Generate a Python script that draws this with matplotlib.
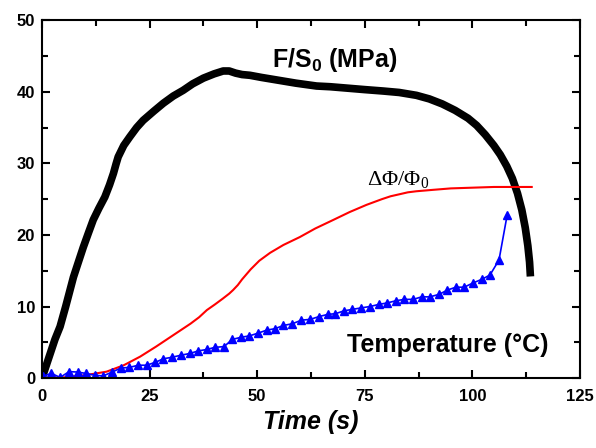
import matplotlib
matplotlib.use("Agg")
import matplotlib.pyplot as plt
from matplotlib.ticker import MultipleLocator

# stress F/S0 (MPa) vs time
stress_t = [0, 1, 2, 3, 4.2, 5.5, 7.3, 8.5, 9.6, 10.8, 11.9, 13.2, 14.6, 15.7,
            16.6, 17.2, 17.7, 19, 20.4, 22, 23.5, 26, 28.2, 30.5, 32.8, 35, 37.5,
            40, 42.1, 43.5, 45, 46.5, 48.3, 51, 55, 59, 63.8, 67, 71, 75, 79.3,
            83, 87, 90, 93, 96, 99, 101, 103, 105, 106.5, 108, 109.3, 110.5,
            111.5, 112.3, 112.9, 113.3, 113.5]
stress_v = [0, 1.8, 3.6, 5.4, 7.2, 10, 14.1, 16.3, 18.3, 20.3, 22.1, 23.7, 25.3, 27,
            28.6, 29.9, 30.9, 32.5, 33.7, 35, 36.0, 37.3, 38.4, 39.4, 40.2, 41.1, 41.9,
            42.5, 42.9, 42.9, 42.6, 42.4, 42.3, 42.0, 41.6, 41.2, 40.8, 40.7, 40.5, 40.3, 40.1,
            39.9, 39.5, 39.0, 38.3, 37.4, 36.3, 35.3, 34.0, 32.5, 31.2, 29.6, 27.9, 25.8,
            23.5, 21.0, 18.5, 16.2, 14.2]

# porosity change dPhi/Phi0
phi_t = [0, 5, 10, 15, 19, 22.8, 26.5, 30.5, 34.5, 36.5, 38.3, 40.2, 42, 43.5,
         44.4, 45.5, 46.5, 48.5, 50.5, 53, 56.1, 59.9, 63.5, 67.7, 71.5, 75.4,
         79, 81, 83.2, 85, 87, 90.9, 95, 100, 105, 110, 113.8]
phi_v = [0, 0.1, 0.4, 0.9, 1.8, 3.0, 4.4, 6.0, 7.6, 8.5, 9.5, 10.3, 11.1, 11.8,
         12.3, 13.0, 13.8, 15.2, 16.4, 17.5, 18.6, 19.7, 20.9, 22.1, 23.2, 24.2,
         25.0, 25.4, 25.7, 25.95, 26.1, 26.3, 26.5, 26.6, 26.7, 26.7, 26.7]

# temperature markers
temp_t = [0.3, 2.2, 4.2, 6.3, 8.3, 10.2, 12.3, 14.2, 16.3, 18.3, 20.3, 22.4, 24.3,
          26.3, 28.2, 30.1, 32.3, 34.4, 36.3, 38.3, 40.2, 42.3, 44.2, 46.2, 48.2,
          50.3, 52.2, 54.1, 56.1, 58.2, 60.3, 62.3, 64.4, 66.4, 68.2, 70.2, 72.1,
          74.1, 76.2, 78.3, 80.2, 82.2, 84.2, 86.3, 88.2, 90.1, 92.3, 94.2, 96.2,
          98.1, 100.2, 102.2, 104.1, 106.2, 108.1]
temp_v = [0.3, 0.65, 0.1, 0.9, 0.85, 0.65, 0.4, 0.3, 0.85, 1.4, 1.5, 1.8, 1.8,
          2.2, 2.7, 2.9, 3.2, 3.45, 3.8, 4.0, 4.3, 4.4, 5.4, 5.7, 5.9,
          6.3, 6.7, 6.9, 7.35, 7.6, 8.1, 8.2, 8.6, 8.9, 9.0, 9.4, 9.6,
          9.8, 10.0, 10.3, 10.5, 10.8, 11.0, 11.0, 11.35, 11.35, 11.7, 12.3, 12.7,
          12.7, 13.3, 13.8, 14.4, 16.5, 22.8]

plt.rcParams['font.family'] = ['Liberation Sans', 'DejaVu Sans']

fig = plt.figure(figsize=(5.96, 4.48), dpi=100)
ax = fig.add_axes([0.0705, 0.156, 0.9025, 0.799])

ax.plot(stress_t, stress_v, color="black", lw=5.5, solid_capstyle="butt",
        solid_joinstyle="round")
ax.plot(phi_t, phi_v, color="#ff0000", lw=1.5)
ax.plot(temp_t, temp_v, color="#0000ff", lw=1.2, marker="^", ms=6, mec="#0000ff")

ax.set_xlim(0, 125)
ax.set_ylim(0, 50)
ax.xaxis.set_major_locator(MultipleLocator(25))
ax.xaxis.set_minor_locator(MultipleLocator(12.5))
ax.yaxis.set_major_locator(MultipleLocator(10))
ax.yaxis.set_minor_locator(MultipleLocator(5))
ax.tick_params(which="both", direction="in", top=True, right=True, width=1.5)
ax.tick_params(which="major", length=6)
ax.tick_params(which="minor", length=4)
ax.tick_params(axis="x", pad=8)
ax.tick_params(axis="y", pad=5)
for lab in ax.get_xticklabels() + ax.get_yticklabels():
    lab.set_fontsize(12)
    lab.set_fontweight("bold")
for s in ax.spines.values():
    s.set_linewidth(1.5)

ax.set_xlabel("Time (s)", fontsize=18, fontweight="bold", style="italic", labelpad=4)

ax.text(53.5, 43.4, r"F/S$_\mathregular{0}$ (MPa)", fontsize=18, fontweight="bold")
ax.text(75.5, 26.9, r"ΔΦ/Φ$_\mathregular{0}$", fontsize=16, family="Liberation Serif")
ax.text(70.9, 3.6, "Temperature (°C)", fontsize=18, fontweight="bold")

fig.savefig("out.png", dpi=100)
